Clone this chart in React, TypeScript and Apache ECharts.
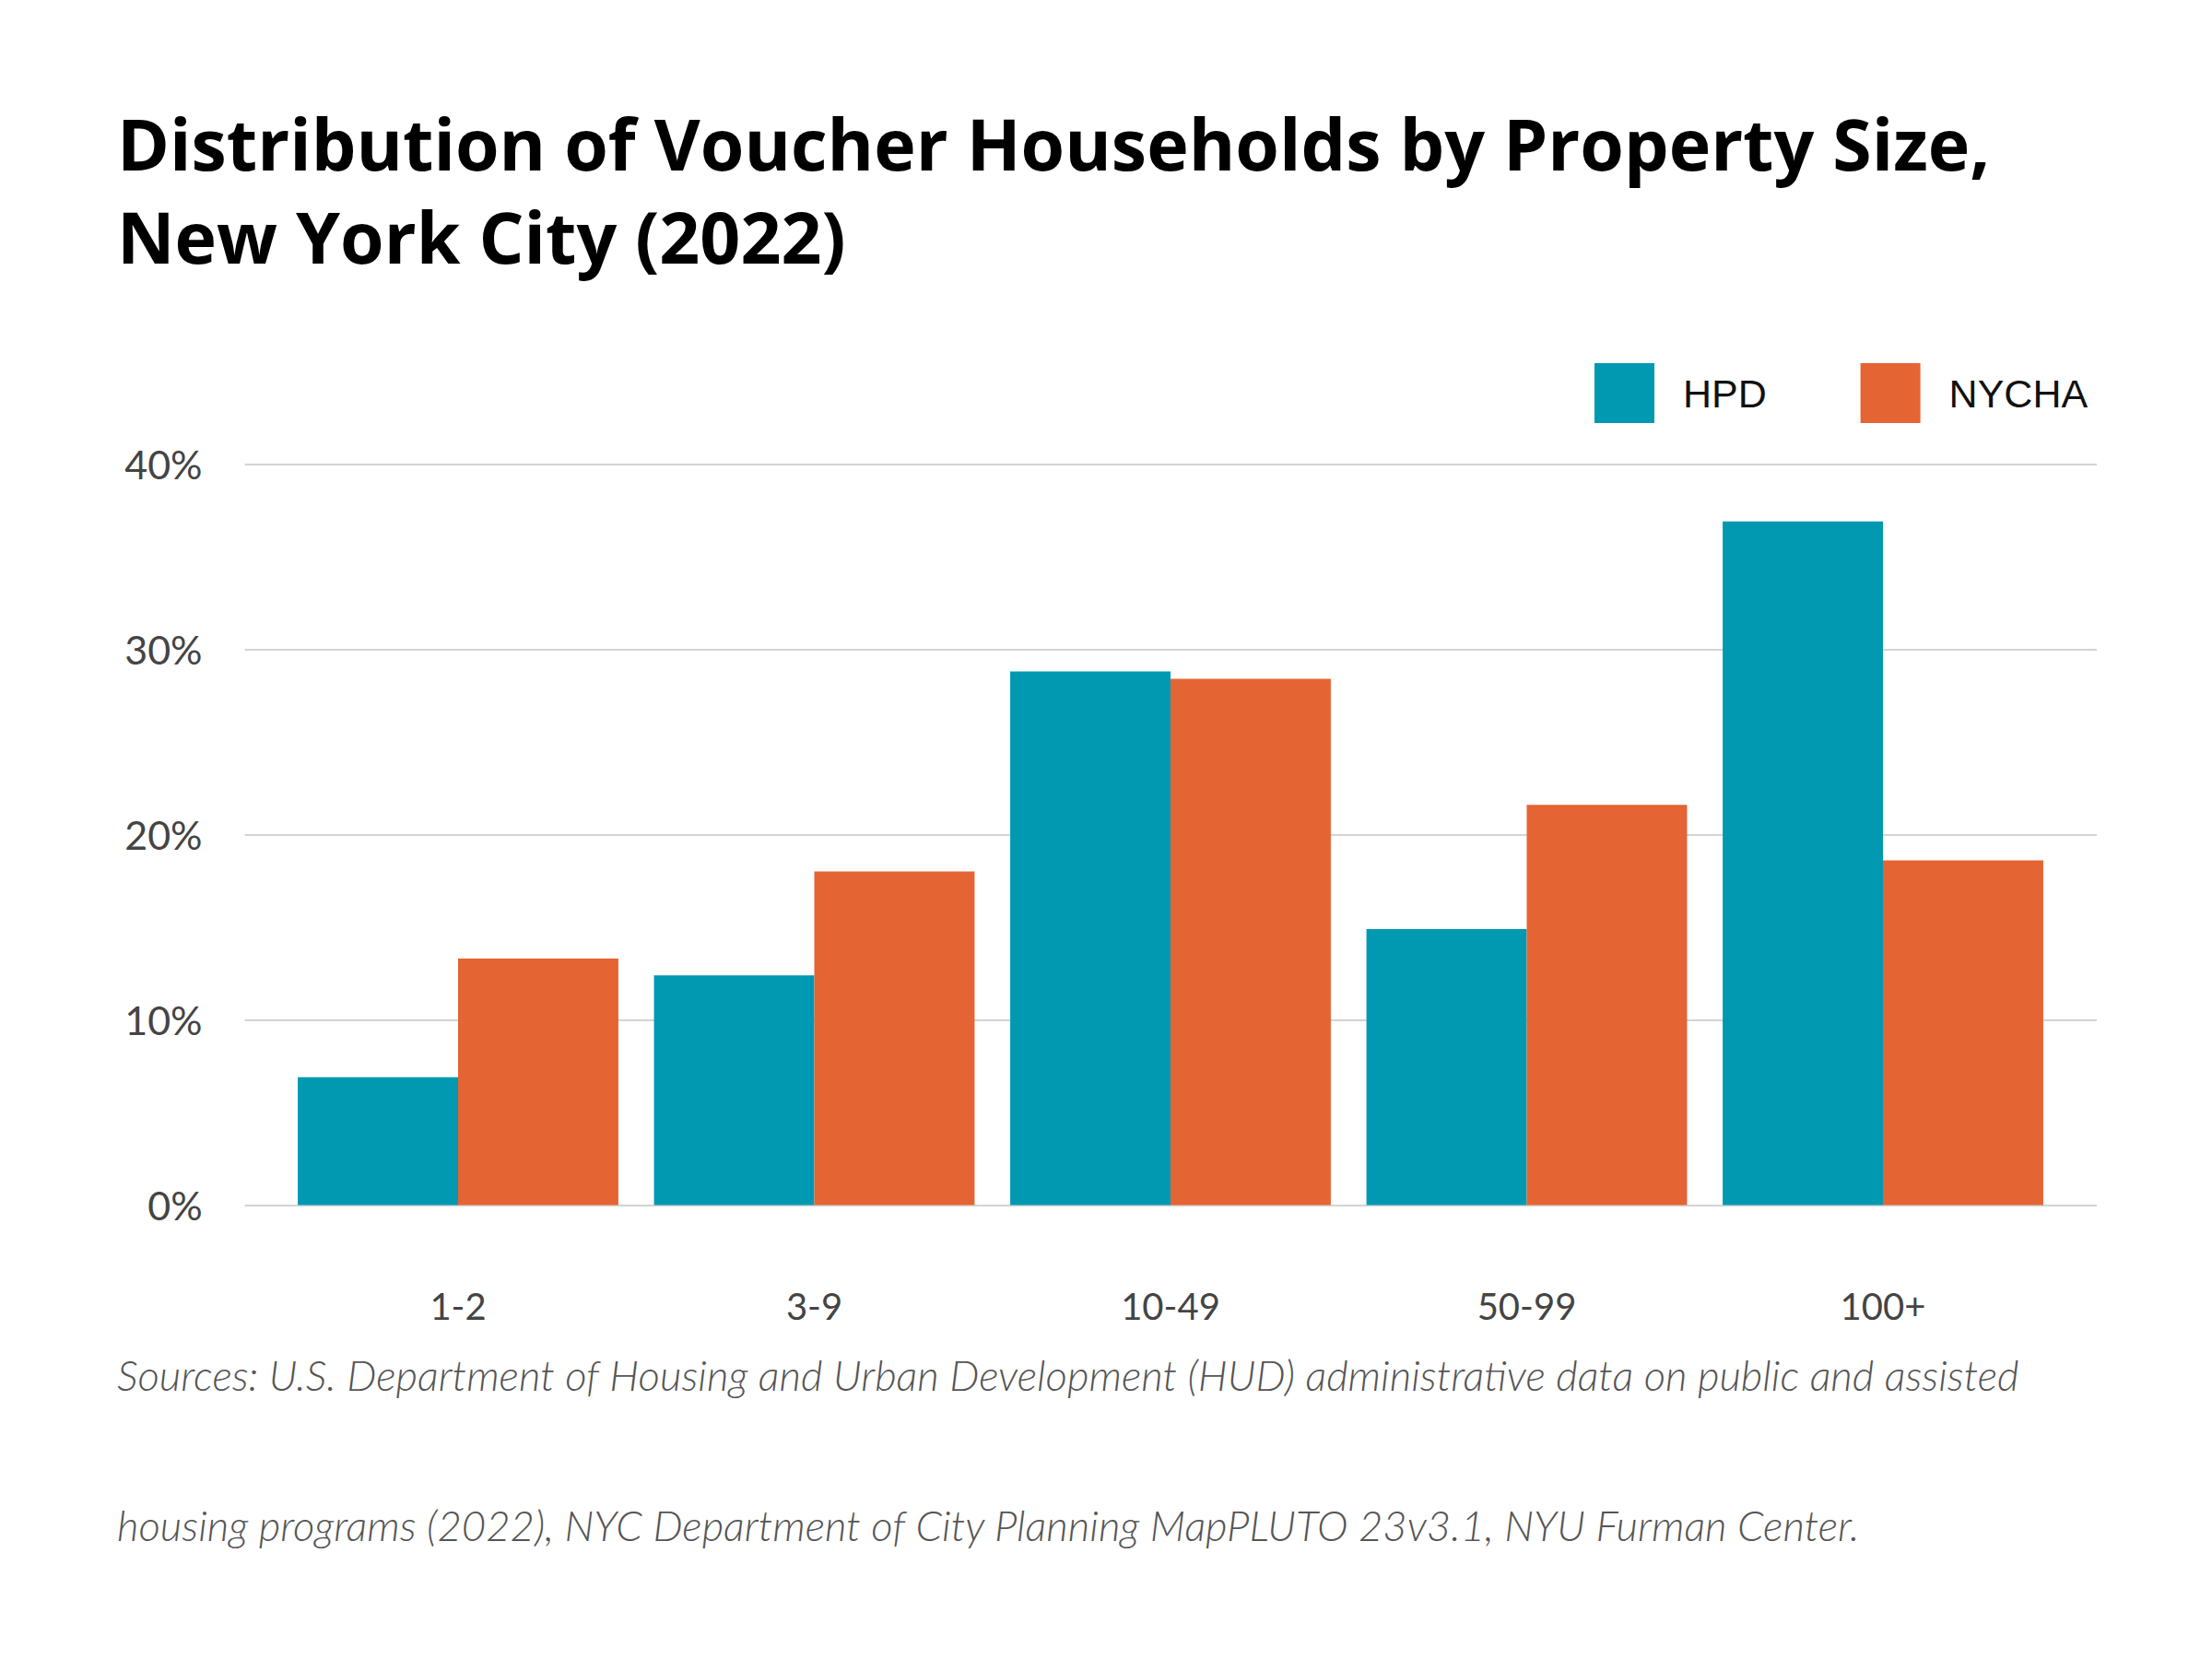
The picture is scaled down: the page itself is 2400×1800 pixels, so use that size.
import React, { useEffect, useRef } from "react";
import * as echarts from "echarts";

const categories = ["1-2", "3-9", "10-49", "50-99", "100+"];
const hpdValues = [6.9, 12.4, 28.8, 14.9, 36.9];
const nychaValues = [13.3, 18.0, 28.4, 21.6, 18.6];
const seriesNames = ["HPD", "NYCHA"];
const yTicks = { min: 0, max: 40, interval: 10 };
const titleText = "Distribution of Voucher Households by Property Size,\nNew York City (2022)";
const sourceText =
  "Sources: U.S. Department of Housing and Urban Development (HUD) administrative data on public and assisted\nhousing programs (2022), NYC Department of City Planning MapPLUTO 23v3.1, NYU Furman Center.";

const TEAL = "#0099B1";
const ORANGE = "#E56434";

export default function App() {
  const ref = useRef<HTMLDivElement>(null);
  useEffect(() => {
    if (!ref.current) return;
    const chart = echarts.init(ref.current, undefined, { renderer: "svg" });
    const top = 503.3;
    const bottom = 1800 - 1307.5;
    const legendText = {
      fontFamily: "Liberation Sans",
      fontSize: 43,
      color: "#111111",
      padding: [0, 0, 0, 26],
    };
    chart.setOption({
      animation: false,
      backgroundColor: "#ffffff",
      title: [
        {
          text: titleText,
          left: 127,
          top: 105,
          padding: 0,
          textStyle: {
            fontFamily: "Open Sans",
            fontWeight: "bold",
            fontSize: 77,
            lineHeight: 101,
            color: "#000000",
          },
        },
        {
          text: sourceText,
          left: 127,
          top: 1410,
          padding: 0,
          textStyle: {
            fontFamily: "Lato",
            fontStyle: "italic",
            fontWeight: 300,
            fontSize: 45.5,
            lineHeight: 163,
            color: "#555555",
          },
        },
      ],
      legend: [
        {
          data: [seriesNames[0]],
          left: 1730,
          top: 394,
          padding: 0,
          itemWidth: 65,
          itemHeight: 65,
          icon: "rect",
          textStyle: legendText,
        },
        {
          data: [seriesNames[1]],
          left: 2018.6,
          top: 394,
          padding: 0,
          itemWidth: 65,
          itemHeight: 65,
          icon: "rect",
          textStyle: legendText,
        },
      ],
      grid: [
        { left: 265.6, right: 125, top, bottom },
        { left: 303.75, right: 163.75, top, bottom },
      ],
      xAxis: [
        { type: "category", gridIndex: 0, data: categories, show: false },
        {
          type: "category",
          gridIndex: 1,
          data: categories,
          axisLine: { show: false },
          axisTick: { show: false },
          axisLabel: {
            margin: 89,
            fontFamily: "Lato",
            fontSize: 40,
            color: "#444444",
          },
        },
      ],
      yAxis: [
        {
          type: "value",
          gridIndex: 0,
          min: yTicks.min,
          max: yTicks.max,
          interval: yTicks.interval,
          axisLine: { show: false },
          axisTick: { show: false },
          axisLabel: {
            formatter: "{value}%",
            margin: 46,
            fontFamily: "Lato",
            fontSize: 43,
            color: "#444444",
          },
          splitLine: { lineStyle: { color: "#d3d3d3", width: 2 } },
        },
        {
          type: "value",
          gridIndex: 1,
          min: yTicks.min,
          max: yTicks.max,
          interval: yTicks.interval,
          show: false,
          splitLine: { show: false },
        },
      ],
      series: [
        {
          name: seriesNames[0],
          type: "bar",
          xAxisIndex: 1,
          yAxisIndex: 1,
          data: hpdValues,
          itemStyle: { color: TEAL },
          barGap: "0%",
          barCategoryGap: "10%",
        },
        {
          name: seriesNames[1],
          type: "bar",
          xAxisIndex: 1,
          yAxisIndex: 1,
          data: nychaValues,
          itemStyle: { color: ORANGE },
          barGap: "0%",
          barCategoryGap: "10%",
        },
      ],
    });
    return () => chart.dispose();
  }, []);
  return (
    <div
      ref={ref}
      style={{ position: "fixed", left: 0, top: 0, width: 2400, height: 1800, background: "#fff" }}
    />
  );
}
